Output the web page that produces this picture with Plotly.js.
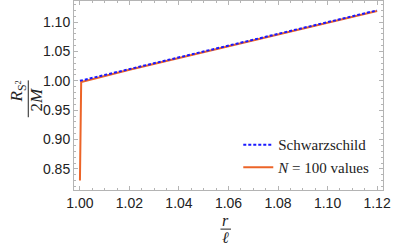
<!DOCTYPE html>
<html><head><meta charset="utf-8">
<script src="https://cdn.plot.ly/plotly-3.0.1.min.js"></script>
<style>html,body{margin:0;padding:0;background:#fff}#plot{width:393px;height:248px}</style>
</head><body><div id="plot"></div>
<script>
// Data
const schwX = [1.00, 1.02, 1.04, 1.06, 1.08, 1.10, 1.12];
const schwY = [1.00, 1.02, 1.04, 1.06, 1.08, 1.10, 1.12];
const nX = [1.000, 1.0002, 1.0005, 1.02, 1.04, 1.06, 1.08, 1.10, 1.12];
const nY = [0.830, 0.990, 0.998, 1.019, 1.039, 1.059, 1.079, 1.099, 1.119];
const xTicks = [1.00, 1.02, 1.04, 1.06, 1.08, 1.10, 1.12];
const yTicks = [0.85, 0.90, 0.95, 1.00, 1.05, 1.10];

const frame = '#b4b4b4';
const tickFont = {family: 'Liberation Sans, Arial, sans-serif', size: 14, color: '#222'};
const serif = 'Liberation Serif, Times New Roman, serif';

const traces = [
  {x: nX, y: nY, mode: 'lines', name: '<i>N</i> = 100 values',
   line: {color: '#ec6428', width: 2}},
  {x: schwX, y: schwY, mode: 'lines', name: 'Schwarzschild',
   line: {color: '#1a1aff', width: 2, dash: '3px,2px'}}
];

const axisCommon = {
  showgrid: false, zeroline: false, showline: true, mirror: 'ticks',
  linecolor: frame, linewidth: 1, ticks: 'inside', ticklen: 4, tickcolor: frame,
  tickfont: tickFont
};

const layout = {
  width: 393, height: 248,
  margin: {l: 74, r: 10, t: 1, b: 58},
  paper_bgcolor: '#fff', plot_bgcolor: '#fff',
  showlegend: true,
  legend: {x: 0.975, y: 0.035, xanchor: 'right', yanchor: 'bottom',
    traceorder: 'reversed', bgcolor: 'rgba(0,0,0,0)',
    font: {family: serif, size: 15, color: '#222'}, itemwidth: 30, tracegroupgap: 0},
  xaxis: Object.assign({}, axisCommon, {
    range: [0.9976, 1.1224], tickvals: xTicks,
    ticktext: xTicks.map(v => v.toFixed(2)),
    minor: {dtick: 0.005, tick0: 1, ticks: 'inside', ticklen: 2, tickcolor: frame}
  }),
  yaxis: Object.assign({}, axisCommon, {
    range: [0.814, 1.136], tickvals: yTicks,
    ticktext: yTicks.map(v => v.toFixed(2)),
    minor: {dtick: 0.01, tick0: 0.8, ticks: 'inside', ticklen: 2, tickcolor: frame}
  }),
  annotations: [
    {xref: 'paper', yref: 'paper', x: 0.491, y: -0.164, xanchor: 'center', yanchor: 'middle',
     text: '<i>r</i>', showarrow: false, font: {family: serif, size: 16, color: '#222'}},
    {xref: 'paper', yref: 'paper', x: 0.491, y: -0.25, xanchor: 'center', yanchor: 'middle',
     text: '<i>ℓ</i>', showarrow: false, font: {family: serif, size: 16, color: '#222'}},
    {xref: 'paper', yref: 'paper', x: -0.182, y: 0.52, xanchor: 'center', yanchor: 'middle',
     textangle: -90, text: '<i>R</i><sub>S<sup>2</sup></sub>', showarrow: false,
     font: {family: serif, size: 17, color: '#222'}},
    {xref: 'paper', yref: 'paper', x: -0.122, y: 0.48, xanchor: 'center', yanchor: 'middle',
     textangle: -90, text: '2<i>M</i>', showarrow: false,
     font: {family: serif, size: 17, color: '#222'}}
  ],
  shapes: [
    {type: 'line', xref: 'paper', yref: 'paper', x0: 0.474, x1: 0.508, y0: -0.207, y1: -0.207,
     line: {color: '#222', width: 1}},
    {type: 'line', xref: 'paper', yref: 'paper', x0: -0.148, x1: -0.148, y0: 0.385, y1: 0.58,
     line: {color: '#222', width: 1}}
  ]
};

Plotly.newPlot('plot', traces, layout, {displayModeBar: false, staticPlot: true});
</script></body></html>
